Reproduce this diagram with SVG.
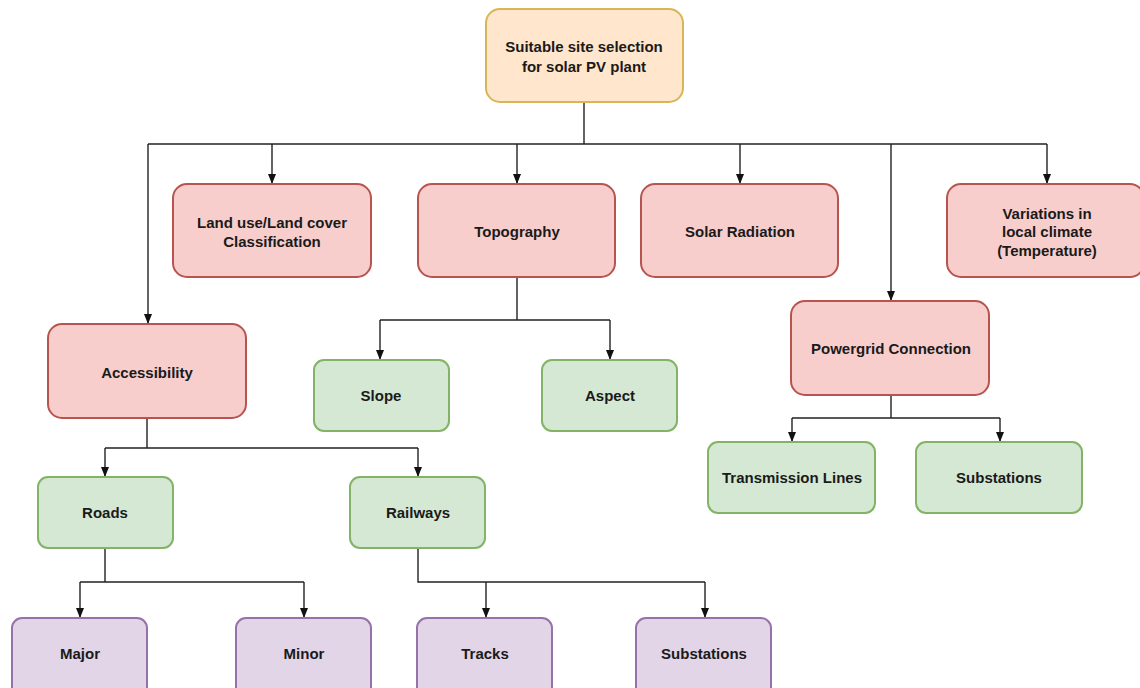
<svg xmlns="http://www.w3.org/2000/svg" width="1140" height="688" viewBox="0 0 1140 688">
<style>
  text { font-family: "Liberation Sans", Arial, sans-serif; font-weight: bold; font-size: 15px; fill: #1a1a1a; text-anchor: middle; dominant-baseline: central; }
  .root { fill: #ffe6cc; stroke: #d6b656; stroke-width: 2; }
  .red { fill: #f8cecc; stroke: #b85450; stroke-width: 2; }
  .green { fill: #d5e8d4; stroke: #82b366; stroke-width: 2; }
  .purple { fill: #e1d5e7; stroke: #9673a6; stroke-width: 2; }
  .edge { fill: none; stroke: #222; stroke-width: 1.4; }
</style>
<defs>
  <marker id="arr" viewBox="0 0 10 8" refX="10" refY="4" markerWidth="10" markerHeight="8" markerUnits="userSpaceOnUse" orient="auto">
    <path d="M0,0 L10,4 L0,8 Z" fill="#111"/>
  </marker>
</defs>
<rect width="1140" height="688" fill="#ffffff"/>

<g id="connectors">
  <path class="edge" d="M584,102 V144"/>
  <path class="edge" d="M148,144 H1047"/>
  <path class="edge" d="M148,144 V324" marker-end="url(#arr)"/>
  <path class="edge" d="M272,144 V184" marker-end="url(#arr)"/>
  <path class="edge" d="M517,144 V184" marker-end="url(#arr)"/>
  <path class="edge" d="M740,144 V184" marker-end="url(#arr)"/>
  <path class="edge" d="M891,144 V301" marker-end="url(#arr)"/>
  <path class="edge" d="M1047,144 V184" marker-end="url(#arr)"/>

  <path class="edge" d="M517,277 V320 M380,320 H610"/>
  <path class="edge" d="M380,320 V360" marker-end="url(#arr)"/>
  <path class="edge" d="M610,320 V360" marker-end="url(#arr)"/>

  <path class="edge" d="M147,418 V448 M105,448 H418"/>
  <path class="edge" d="M105,448 V477" marker-end="url(#arr)"/>
  <path class="edge" d="M418,448 V477" marker-end="url(#arr)"/>

  <path class="edge" d="M891,395 V418 M792,418 H1000"/>
  <path class="edge" d="M792,418 V442" marker-end="url(#arr)"/>
  <path class="edge" d="M1000,418 V442" marker-end="url(#arr)"/>

  <path class="edge" d="M105,548 V582 M80,582 H304"/>
  <path class="edge" d="M80,582 V618" marker-end="url(#arr)"/>
  <path class="edge" d="M304,582 V618" marker-end="url(#arr)"/>

  <path class="edge" d="M418,548 V582 H705"/>
  <path class="edge" d="M486,582 V618" marker-end="url(#arr)"/>
  <path class="edge" d="M705,582 V618" marker-end="url(#arr)"/>
</g>

<g id="root">
  <rect class="root" x="486" y="9" width="197" height="93" rx="14"/>
  <text x="584" y="46">Suitable site selection</text>
  <text x="584" y="66">for solar PV plant</text>
</g>
<g id="landuse">
  <rect class="red" x="173" y="184" width="198" height="93" rx="14"/>
  <text x="272" y="222">Land use/Land cover</text>
  <text x="272" y="241">Classification</text>
</g>
<g id="topography">
  <rect class="red" x="418" y="184" width="197" height="93" rx="14"/>
  <text x="517" y="231">Topography</text>
</g>
<g id="solar">
  <rect class="red" x="641" y="184" width="197" height="93" rx="14"/>
  <text x="740" y="231">Solar Radiation</text>
</g>
<g id="climate">
  <rect class="red" x="947" y="184" width="197" height="93" rx="14"/>
  <text x="1047" y="213">Variations in</text>
  <text x="1047" y="231">local climate</text>
  <text x="1047" y="250">(Temperature)</text>
</g>
<g id="accessibility">
  <rect class="red" x="48" y="324" width="198" height="94" rx="14"/>
  <text x="147" y="372">Accessibility</text>
</g>
<g id="powergrid">
  <rect class="red" x="791" y="301" width="198" height="94" rx="14"/>
  <text x="891" y="348">Powergrid Connection</text>
</g>
<g id="slope">
  <rect class="green" x="314" y="360" width="135" height="71" rx="10"/>
  <text x="381" y="395">Slope</text>
</g>
<g id="aspect">
  <rect class="green" x="542" y="360" width="135" height="71" rx="10"/>
  <text x="610" y="395">Aspect</text>
</g>
<g id="transmission">
  <rect class="green" x="708" y="442" width="167" height="71" rx="10"/>
  <text x="792" y="477">Transmission Lines</text>
</g>
<g id="substations-grid">
  <rect class="green" x="916" y="442" width="166" height="71" rx="10"/>
  <text x="999" y="477">Substations</text>
</g>
<g id="roads">
  <rect class="green" x="38" y="477" width="135" height="71" rx="10"/>
  <text x="105" y="512">Roads</text>
</g>
<g id="railways">
  <rect class="green" x="350" y="477" width="135" height="71" rx="10"/>
  <text x="418" y="512">Railways</text>
</g>
<g id="major">
  <rect class="purple" x="12" y="618" width="135" height="80" rx="10"/>
  <text x="80" y="653">Major</text>
</g>
<g id="minor">
  <rect class="purple" x="236" y="618" width="135" height="80" rx="10"/>
  <text x="304" y="653">Minor</text>
</g>
<g id="tracks">
  <rect class="purple" x="417" y="618" width="135" height="80" rx="10"/>
  <text x="485" y="653">Tracks</text>
</g>
<g id="substations-rail">
  <rect class="purple" x="636" y="618" width="135" height="80" rx="10"/>
  <text x="704" y="653">Substations</text>
</g>
</svg>
